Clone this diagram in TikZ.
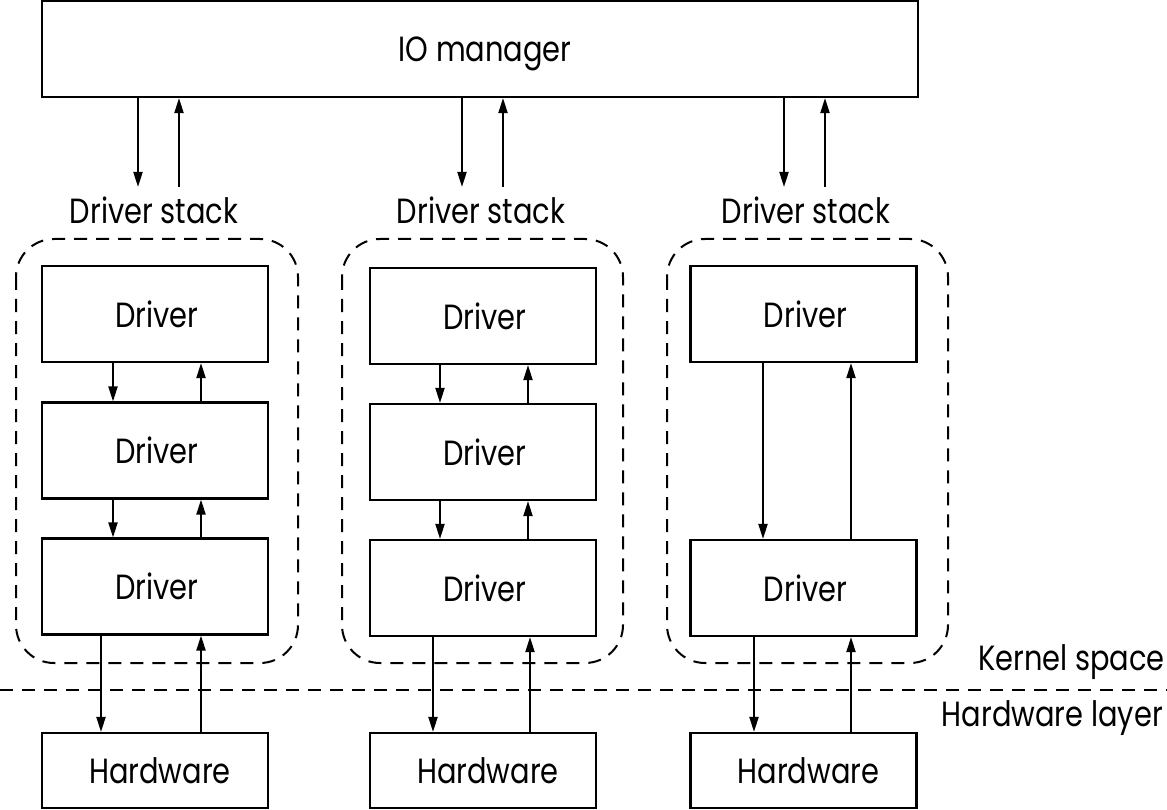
\documentclass[tikz,border=0pt]{standalone}
\usepackage{fontspec}
\setmainfont[FakeStretch=0.825]{Poppins}
\usetikzlibrary{arrows.meta}
\begin{document}
\begin{tikzpicture}[x=1pt,y=-1pt,
  every node/.style={font=\fontsize{35}{38}\selectfont, inner sep=0pt},
  box/.style={draw, line width=2.1pt, minimum width=226pt, text depth=0pt},
  drv/.style={box, minimum height=96pt, execute at begin node=\hspace*{4pt}},
  hw/.style={box, minimum height=75pt, execute at begin node=\hspace*{10pt}},
  stackbox/.style={draw, dashed, dash pattern=on 13pt off 9pt, line width=2pt, rounded corners=38pt},
  arr/.style={line width=2pt, -{Triangle[length=15pt,width=9pt]}},
  lbl/.style={anchor=base}]
\useasboundingbox (0,0) rectangle (1167,810);

% IO manager
\node[draw, line width=2.1pt, minimum width=876pt, minimum height=96pt, text depth=0pt,
      execute at begin node=\hspace*{10pt}] (io) at (480,49) {IO manager};

% Driver stack labels
\node[lbl] (l1) at (154,224) {Driver stack};
\node[lbl] (l2) at (481,224) {Driver stack};
\node[lbl] (l3) at (806,224) {Driver stack};

% stack containers
\draw[stackbox] (16,239) rectangle (298,663);
\draw[stackbox] (342,239) rectangle (623,663);
\draw[stackbox] (667,239) rectangle (948,663);

% drivers
\node[drv] (d11) at (155,314) {Driver};
\node[drv] (d12) at (155,450.5) {Driver};
\node[drv] (d13) at (155,586.5) {Driver};
\node[drv] (d21) at (483,316) {Driver};
\node[drv] (d22) at (483,452) {Driver};
\node[drv] (d23) at (483,588) {Driver};
\node[drv] (d31) at (803.5,314) {Driver};
\node[drv] (d33) at (803.5,588) {Driver};

% hardware
\node[hw] (h1) at (155,770.5) {Hardware};
\node[hw] (h2) at (483,770.5) {Hardware};
\node[hw] (h3) at (803.5,770.5) {Hardware};

% kernel / hardware separator
\coordinate (sepL) at (0,690);
\coordinate (sepR) at (1167,690);
\draw[dashed, dash pattern=on 13pt off 9pt, line width=1.8pt] (sepL) -- (sepR);
\node[anchor=base east] (ks) at (1165,670) {Kernel space};
\node[anchor=base east] (hl) at (1163,726) {Hardware layer};

% IO manager arrows
\coordinate (e1d) at (138,187); \coordinate (e1u) at (179,187);
\coordinate (e2d) at (462,187); \coordinate (e2u) at (503,187);
\coordinate (e3d) at (784,187); \coordinate (e3u) at (825,187);
\draw[arr] (io.south -| e1d) -- (e1d);
\draw[arr] (e1u) -- (io.south -| e1u);
\draw[arr] (io.south -| e2d) -- (e2d);
\draw[arr] (e2u) -- (io.south -| e2u);
\draw[arr] (io.south -| e3d) -- (e3d);
\draw[arr] (e3u) -- (io.south -| e3u);

% stack 1 arrows
\coordinate (a1d) at (113,0); \coordinate (a1u) at (201,0);
\coordinate (b1d) at (101,0); \coordinate (b1u) at (201,0);
\draw[arr] (d11.south -| a1d) -- (d12.north -| a1d);
\draw[arr] (d12.north -| a1u) -- (d11.south -| a1u);
\draw[arr] (d12.south -| a1d) -- (d13.north -| a1d);
\draw[arr] (d13.north -| a1u) -- (d12.south -| a1u);
\draw[arr] (d13.south -| b1d) -- (h1.north -| b1d);
\draw[arr] (h1.north -| b1u) -- (d13.south -| b1u);

% stack 2 arrows
\coordinate (a2d) at (440,0); \coordinate (a2u) at (528,0);
\coordinate (b2d) at (433,0); \coordinate (b2u) at (530,0);
\draw[arr] (d21.south -| a2d) -- (d22.north -| a2d);
\draw[arr] (d22.north -| a2u) -- (d21.south -| a2u);
\draw[arr] (d22.south -| a2d) -- (d23.north -| a2d);
\draw[arr] (d23.north -| a2u) -- (d22.south -| a2u);
\draw[arr] (d23.south -| b2d) -- (h2.north -| b2d);
\draw[arr] (h2.north -| b2u) -- (d23.south -| b2u);

% stack 3 arrows
\coordinate (a3d) at (763,0); \coordinate (a3u) at (851,0);
\coordinate (b3d) at (754,0); \coordinate (b3u) at (851,0);
\draw[arr] (d31.south -| a3d) -- (d33.north -| a3d);
\draw[arr] (d33.north -| a3u) -- (d31.south -| a3u);
\draw[arr] (d33.south -| b3d) -- (h3.north -| b3d);
\draw[arr] (h3.north -| b3u) -- (d33.south -| b3u);
\end{tikzpicture}
\end{document}
